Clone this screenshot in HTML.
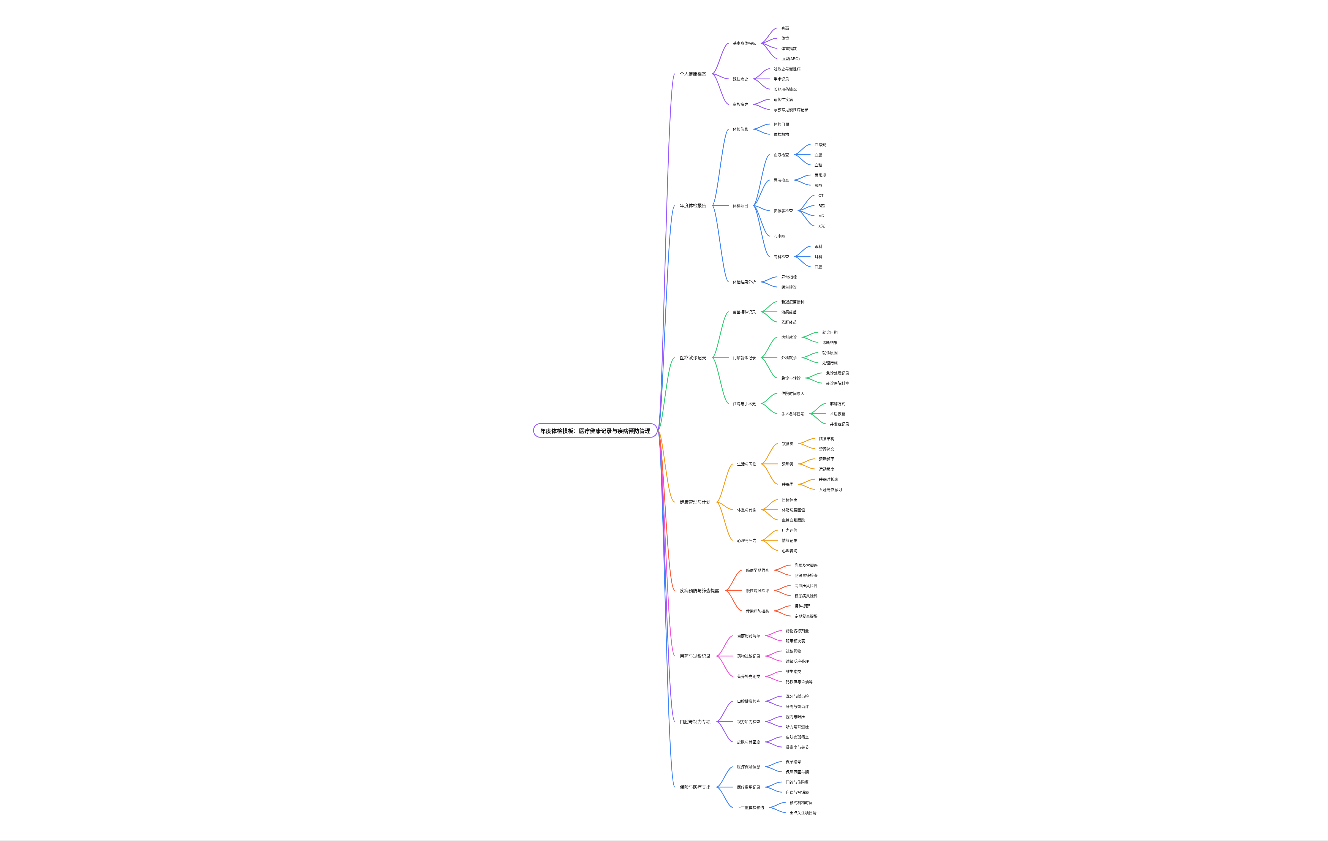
<!DOCTYPE html>
<html lang="zh-CN">
<head>
<meta charset="utf-8">
<title>年度体检模板 - 思维导图</title>
<style>
html,body{margin:0;padding:0;background:#fff;}
body{width:1328px;height:841px;overflow:hidden;position:relative;
 font-family:"Liberation Sans","Noto Sans CJK SC",sans-serif;}
#viewport{position:absolute;left:0;top:0;width:1328px;height:840px;overflow:hidden;background:#fff;}
#layer{position:absolute;left:0;top:0;width:1271.39px;height:2985.94px;transform-origin:0 0;
 transform:translate(520px,10px) scale(0.27529);will-change:transform;}
#map{position:absolute;left:0;top:0;display:block;overflow:visible;}
#foot{position:absolute;left:0;top:840px;width:1328px;height:1px;background:#eeeeee;}
svg text{font-family:"Liberation Sans","Noto Sans CJK SC",sans-serif;fill:#111;}
svg .l0{font-size:20px;font-weight:700;}
svg .l1{font-size:16px;}
svg .l2{font-size:14px;}
svg .edges path{fill:none;stroke-width:3;}
</style>
</head>
<body>
<div id="viewport">
<div id="layer">
<svg id="map" width="1271.39" height="2985.94" viewBox="0 0 1271.39 2985.94">
<g class="edges">
<path d="M500.56 1527.17C521.06 1527.17 532.86 2822.67 562.68 2822.67" stroke="#3b82f6"/>
<path d="M713.69 2822.67C733.11 2822.67 752.52 2748.67 774.36 2748.67" stroke="#3b82f6"/>
<path d="M890.25 2748.67C909.66 2748.67 929.07 2730.17 950.91 2730.17" stroke="#3b82f6"/>
<path d="M890.25 2748.67C909.66 2748.67 929.07 2767.17 950.91 2767.17" stroke="#3b82f6"/>
<path d="M713.69 2822.67C733.11 2822.67 752.52 2822.67 774.36 2822.67" stroke="#3b82f6"/>
<path d="M890.25 2822.67C909.66 2822.67 929.07 2804.17 950.91 2804.17" stroke="#3b82f6"/>
<path d="M890.25 2822.67C909.66 2822.67 929.07 2841.17 950.91 2841.17" stroke="#3b82f6"/>
<path d="M713.69 2822.67C733.11 2822.67 752.52 2896.67 774.36 2896.67" stroke="#3b82f6"/>
<path d="M904.25 2896.67C923.66 2896.67 943.07 2878.17 964.91 2878.17" stroke="#3b82f6"/>
<path d="M904.25 2896.67C923.66 2896.67 943.07 2915.17 964.91 2915.17" stroke="#3b82f6"/>
<path d="M500.56 1527.17C521.06 1527.17 532.86 2584.67 562.68 2584.67" stroke="#9455fa"/>
<path d="M713.69 2584.67C733.11 2584.67 752.52 2510.67 774.36 2510.67" stroke="#9455fa"/>
<path d="M890.25 2510.67C909.66 2510.67 929.07 2492.17 950.91 2492.17" stroke="#9455fa"/>
<path d="M890.25 2510.67C909.66 2510.67 929.07 2529.17 950.91 2529.17" stroke="#9455fa"/>
<path d="M713.69 2584.67C733.11 2584.67 752.52 2584.67 774.36 2584.67" stroke="#9455fa"/>
<path d="M890.25 2584.67C909.66 2584.67 929.07 2566.17 950.91 2566.17" stroke="#9455fa"/>
<path d="M890.25 2584.67C909.66 2584.67 929.07 2603.17 950.91 2603.17" stroke="#9455fa"/>
<path d="M713.69 2584.67C733.11 2584.67 752.52 2658.67 774.36 2658.67" stroke="#9455fa"/>
<path d="M890.25 2658.67C909.66 2658.67 929.07 2640.17 950.91 2640.17" stroke="#9455fa"/>
<path d="M890.25 2658.67C909.66 2658.67 929.07 2677.17 950.91 2677.17" stroke="#9455fa"/>
<path d="M500.56 1527.17C521.06 1527.17 532.86 2346.67 562.68 2346.67" stroke="#f04ed9"/>
<path d="M713.69 2346.67C733.11 2346.67 752.52 2272.67 774.36 2272.67" stroke="#f04ed9"/>
<path d="M890.25 2272.67C909.66 2272.67 929.07 2254.17 950.91 2254.17" stroke="#f04ed9"/>
<path d="M890.25 2272.67C909.66 2272.67 929.07 2291.17 950.91 2291.17" stroke="#f04ed9"/>
<path d="M713.69 2346.67C733.11 2346.67 752.52 2346.67 774.36 2346.67" stroke="#f04ed9"/>
<path d="M890.25 2346.67C909.66 2346.67 929.07 2328.17 950.91 2328.17" stroke="#f04ed9"/>
<path d="M890.25 2346.67C909.66 2346.67 929.07 2365.17 950.91 2365.17" stroke="#f04ed9"/>
<path d="M713.69 2346.67C733.11 2346.67 752.52 2420.67 774.36 2420.67" stroke="#f04ed9"/>
<path d="M890.25 2420.67C909.66 2420.67 929.07 2402.17 950.91 2402.17" stroke="#f04ed9"/>
<path d="M890.25 2420.67C909.66 2420.67 929.07 2439.17 950.91 2439.17" stroke="#f04ed9"/>
<path d="M500.56 1527.17C521.06 1527.17 532.86 2108.67 562.68 2108.67" stroke="#ff5733"/>
<path d="M745.69 2108.67C765.11 2108.67 784.52 2034.67 806.36 2034.67" stroke="#ff5733"/>
<path d="M922.25 2034.67C941.66 2034.67 961.07 2016.17 982.91 2016.17" stroke="#ff5733"/>
<path d="M922.25 2034.67C941.66 2034.67 961.07 2053.17 982.91 2053.17" stroke="#ff5733"/>
<path d="M745.69 2108.67C765.11 2108.67 784.52 2108.67 806.36 2108.67" stroke="#ff5733"/>
<path d="M922.25 2108.67C941.66 2108.67 961.07 2090.17 982.91 2090.17" stroke="#ff5733"/>
<path d="M922.25 2108.67C941.66 2108.67 961.07 2127.17 982.91 2127.17" stroke="#ff5733"/>
<path d="M745.69 2108.67C765.11 2108.67 784.52 2182.67 806.36 2182.67" stroke="#ff5733"/>
<path d="M922.25 2182.67C941.66 2182.67 961.07 2164.17 982.91 2164.17" stroke="#ff5733"/>
<path d="M922.25 2182.67C941.66 2182.67 961.07 2201.17 982.91 2201.17" stroke="#ff5733"/>
<path d="M500.56 1527.17C521.06 1527.17 532.86 1787.42 562.68 1787.42" stroke="#f39c12"/>
<path d="M713.69 1787.42C733.11 1787.42 752.52 1648.67 774.36 1648.67" stroke="#f39c12"/>
<path d="M876.25 1648.67C895.66 1648.67 915.07 1574.67 936.91 1574.67" stroke="#f39c12"/>
<path d="M1010.81 1574.67C1030.22 1574.67 1049.63 1556.17 1071.47 1556.17" stroke="#f39c12"/>
<path d="M1010.81 1574.67C1030.22 1574.67 1049.63 1593.17 1071.47 1593.17" stroke="#f39c12"/>
<path d="M876.25 1648.67C895.66 1648.67 915.07 1648.67 936.91 1648.67" stroke="#f39c12"/>
<path d="M1010.81 1648.67C1030.22 1648.67 1049.63 1630.17 1071.47 1630.17" stroke="#f39c12"/>
<path d="M1010.81 1648.67C1030.22 1648.67 1049.63 1667.17 1071.47 1667.17" stroke="#f39c12"/>
<path d="M876.25 1648.67C895.66 1648.67 915.07 1722.67 936.91 1722.67" stroke="#f39c12"/>
<path d="M1010.81 1722.67C1030.22 1722.67 1049.63 1704.17 1071.47 1704.17" stroke="#f39c12"/>
<path d="M1010.81 1722.67C1030.22 1722.67 1049.63 1741.17 1071.47 1741.17" stroke="#f39c12"/>
<path d="M713.69 1787.42C733.11 1787.42 752.52 1815.17 774.36 1815.17" stroke="#f39c12"/>
<path d="M876.25 1815.17C895.66 1815.17 915.07 1778.17 936.91 1778.17" stroke="#f39c12"/>
<path d="M876.25 1815.17C895.66 1815.17 915.07 1815.17 936.91 1815.17" stroke="#f39c12"/>
<path d="M876.25 1815.17C895.66 1815.17 915.07 1852.17 936.91 1852.17" stroke="#f39c12"/>
<path d="M713.69 1787.42C733.11 1787.42 752.52 1926.17 774.36 1926.17" stroke="#f39c12"/>
<path d="M876.25 1926.17C895.66 1926.17 915.07 1889.17 936.91 1889.17" stroke="#f39c12"/>
<path d="M876.25 1926.17C895.66 1926.17 915.07 1926.17 936.91 1926.17" stroke="#f39c12"/>
<path d="M876.25 1926.17C895.66 1926.17 915.07 1963.17 936.91 1963.17" stroke="#f39c12"/>
<path d="M500.56 1527.17C521.06 1527.17 532.86 1262.67 562.68 1262.67" stroke="#2ecc71"/>
<path d="M697.69 1262.67C717.11 1262.67 736.52 1096.17 758.36 1096.17" stroke="#2ecc71"/>
<path d="M874.25 1096.17C893.66 1096.17 913.07 1059.17 934.91 1059.17" stroke="#2ecc71"/>
<path d="M874.25 1096.17C893.66 1096.17 913.07 1096.17 934.91 1096.17" stroke="#2ecc71"/>
<path d="M874.25 1096.17C893.66 1096.17 913.07 1133.17 934.91 1133.17" stroke="#2ecc71"/>
<path d="M697.69 1262.67C717.11 1262.67 736.52 1262.67 758.36 1262.67" stroke="#2ecc71"/>
<path d="M874.25 1262.67C893.66 1262.67 913.07 1188.67 934.91 1188.67" stroke="#2ecc71"/>
<path d="M1022.81 1188.67C1042.22 1188.67 1061.63 1170.17 1083.47 1170.17" stroke="#2ecc71"/>
<path d="M1022.81 1188.67C1042.22 1188.67 1061.63 1207.17 1083.47 1207.17" stroke="#2ecc71"/>
<path d="M874.25 1262.67C893.66 1262.67 913.07 1262.67 934.91 1262.67" stroke="#2ecc71"/>
<path d="M1022.81 1262.67C1042.22 1262.67 1061.63 1244.17 1083.47 1244.17" stroke="#2ecc71"/>
<path d="M1022.81 1262.67C1042.22 1262.67 1061.63 1281.17 1083.47 1281.17" stroke="#2ecc71"/>
<path d="M874.25 1262.67C893.66 1262.67 913.07 1336.67 934.91 1336.67" stroke="#2ecc71"/>
<path d="M1036.81 1336.67C1056.22 1336.67 1075.63 1318.17 1097.47 1318.17" stroke="#2ecc71"/>
<path d="M1036.81 1336.67C1056.22 1336.67 1075.63 1355.17 1097.47 1355.17" stroke="#2ecc71"/>
<path d="M697.69 1262.67C717.11 1262.67 736.52 1429.17 758.36 1429.17" stroke="#2ecc71"/>
<path d="M874.25 1429.17C893.66 1429.17 913.07 1392.17 934.91 1392.17" stroke="#2ecc71"/>
<path d="M874.25 1429.17C893.66 1429.17 913.07 1466.17 934.91 1466.17" stroke="#2ecc71"/>
<path d="M1050.81 1466.17C1070.22 1466.17 1089.63 1429.17 1111.47 1429.17" stroke="#2ecc71"/>
<path d="M1050.81 1466.17C1070.22 1466.17 1089.63 1466.17 1111.47 1466.17" stroke="#2ecc71"/>
<path d="M1050.81 1466.17C1070.22 1466.17 1089.63 1503.17 1111.47 1503.17" stroke="#2ecc71"/>
<path d="M500.56 1527.17C521.06 1527.17 532.86 710.17 562.68 710.17" stroke="#3b82f6"/>
<path d="M697.69 710.17C717.11 710.17 736.52 432.67 758.36 432.67" stroke="#3b82f6"/>
<path d="M846.25 432.67C865.66 432.67 885.07 414.17 906.91 414.17" stroke="#3b82f6"/>
<path d="M846.25 432.67C865.66 432.67 885.07 451.17 906.91 451.17" stroke="#3b82f6"/>
<path d="M697.69 710.17C717.11 710.17 736.52 710.17 758.36 710.17" stroke="#3b82f6"/>
<path d="M846.25 710.17C865.66 710.17 885.07 525.17 906.91 525.17" stroke="#3b82f6"/>
<path d="M994.81 525.17C1014.22 525.17 1033.63 488.17 1055.47 488.17" stroke="#3b82f6"/>
<path d="M994.81 525.17C1014.22 525.17 1033.63 525.17 1055.47 525.17" stroke="#3b82f6"/>
<path d="M994.81 525.17C1014.22 525.17 1033.63 562.17 1055.47 562.17" stroke="#3b82f6"/>
<path d="M846.25 710.17C865.66 710.17 885.07 617.67 906.91 617.67" stroke="#3b82f6"/>
<path d="M994.81 617.67C1014.22 617.67 1033.63 599.17 1055.47 599.17" stroke="#3b82f6"/>
<path d="M994.81 617.67C1014.22 617.67 1033.63 636.17 1055.47 636.17" stroke="#3b82f6"/>
<path d="M846.25 710.17C865.66 710.17 885.07 728.67 906.91 728.67" stroke="#3b82f6"/>
<path d="M1008.81 728.67C1028.22 728.67 1047.63 673.17 1069.47 673.17" stroke="#3b82f6"/>
<path d="M1008.81 728.67C1028.22 728.67 1047.63 710.17 1069.47 710.17" stroke="#3b82f6"/>
<path d="M1008.81 728.67C1028.22 728.67 1047.63 747.17 1069.47 747.17" stroke="#3b82f6"/>
<path d="M1008.81 728.67C1028.22 728.67 1047.63 784.17 1069.47 784.17" stroke="#3b82f6"/>
<path d="M846.25 710.17C865.66 710.17 885.07 821.17 906.91 821.17" stroke="#3b82f6"/>
<path d="M846.25 710.17C865.66 710.17 885.07 895.17 906.91 895.17" stroke="#3b82f6"/>
<path d="M994.81 895.17C1014.22 895.17 1033.63 858.17 1055.47 858.17" stroke="#3b82f6"/>
<path d="M994.81 895.17C1014.22 895.17 1033.63 895.17 1055.47 895.17" stroke="#3b82f6"/>
<path d="M994.81 895.17C1014.22 895.17 1033.63 932.17 1055.47 932.17" stroke="#3b82f6"/>
<path d="M697.69 710.17C717.11 710.17 736.52 987.67 758.36 987.67" stroke="#3b82f6"/>
<path d="M874.25 987.67C893.66 987.67 913.07 969.17 934.91 969.17" stroke="#3b82f6"/>
<path d="M874.25 987.67C893.66 987.67 913.07 1006.17 934.91 1006.17" stroke="#3b82f6"/>
<path d="M500.56 1527.17C521.06 1527.17 532.86 231.67 562.68 231.67" stroke="#9455fa"/>
<path d="M697.69 231.67C717.11 231.67 736.52 120.67 758.36 120.67" stroke="#9455fa"/>
<path d="M874.25 120.67C893.66 120.67 913.07 65.17 934.91 65.17" stroke="#9455fa"/>
<path d="M874.25 120.67C893.66 120.67 913.07 102.17 934.91 102.17" stroke="#9455fa"/>
<path d="M874.25 120.67C893.66 120.67 913.07 139.17 934.91 139.17" stroke="#9455fa"/>
<path d="M874.25 120.67C893.66 120.67 913.07 176.17 934.91 176.17" stroke="#9455fa"/>
<path d="M697.69 231.67C717.11 231.67 736.52 250.17 758.36 250.17" stroke="#9455fa"/>
<path d="M846.25 250.17C865.66 250.17 885.07 213.17 906.91 213.17" stroke="#9455fa"/>
<path d="M846.25 250.17C865.66 250.17 885.07 250.17 906.91 250.17" stroke="#9455fa"/>
<path d="M846.25 250.17C865.66 250.17 885.07 287.17 906.91 287.17" stroke="#9455fa"/>
<path d="M697.69 231.67C717.11 231.67 736.52 342.67 758.36 342.67" stroke="#9455fa"/>
<path d="M846.25 342.67C865.66 342.67 885.07 324.17 906.91 324.17" stroke="#9455fa"/>
<path d="M846.25 342.67C865.66 342.67 885.07 361.17 906.91 361.17" stroke="#9455fa"/>
</g>
<g class="root">
<rect x="49.04" y="1502.17" width="449.78" height="50" rx="25" fill="#fff" stroke="#9455fa" stroke-width="3"/>
<text class="l0" x="273.93" y="1536.77" text-anchor="middle">年度体检模板：医疗健康记录与疾病预防管理</text>
</g>
<g class="nodes">
<text class="l1" x="580.48" y="2828.59">保险与医疗支出</text>
<text class="l2" x="788.89" y="2754.27">医疗保险信息</text>
<text class="l2" x="965.44" y="2735.77">保单编号</text>
<text class="l2" x="965.44" y="2772.77">保障范围与期</text>
<text class="l2" x="788.89" y="2828.27">医疗费用记录</text>
<text class="l2" x="965.44" y="2809.77">门诊与住院费</text>
<text class="l2" x="965.44" y="2846.77">自费与报销额</text>
<text class="l2" x="788.89" y="2902.27">下年度体检预约</text>
<text class="l2" x="979.44" y="2883.77">预约机构时间</text>
<text class="l2" x="979.44" y="2920.77">重点关注项目清</text>
<text class="l1" x="580.48" y="2590.59">口腔与视力专项</text>
<text class="l2" x="788.89" y="2516.27">口腔健康检查</text>
<text class="l2" x="965.44" y="2497.77">洗牙与龋齿检</text>
<text class="l2" x="965.44" y="2534.77">牙周与智齿评</text>
<text class="l2" x="788.89" y="2590.27">视力听力检查</text>
<text class="l2" x="965.44" y="2571.77">视力与眼压</text>
<text class="l2" x="965.44" y="2608.77">听力与耳道检</text>
<text class="l2" x="788.89" y="2664.27">皮肤与骨密度</text>
<text class="l2" x="965.44" y="2645.77">皮肤痣斑筛查</text>
<text class="l2" x="965.44" y="2682.77">骨密度与关节</text>
<text class="l1" x="580.48" y="2352.59">用药与过敏记录</text>
<text class="l2" x="788.89" y="2278.27">当前用药清单</text>
<text class="l2" x="965.44" y="2259.77">药物名称剂量</text>
<text class="l2" x="965.44" y="2296.77">服用频次表</text>
<text class="l2" x="788.89" y="2352.27">药物过敏记录</text>
<text class="l2" x="965.44" y="2333.77">过敏药物</text>
<text class="l2" x="965.44" y="2370.77">过敏反应处理</text>
<text class="l2" x="788.89" y="2426.27">营养补充剂类</text>
<text class="l2" x="965.44" y="2407.77">维生素类</text>
<text class="l2" x="965.44" y="2444.77">钙铁锌与鱼油等</text>
<text class="l1" x="580.48" y="2114.59">疾病预防与筛查提醒</text>
<text class="l2" x="820.89" y="2040.27">癌症早期筛查</text>
<text class="l2" x="997.44" y="2021.77">乳腺及宫颈癌</text>
<text class="l2" x="997.44" y="2058.77">肠镜胃镜检查</text>
<text class="l2" x="820.89" y="2114.27">慢性病风险评</text>
<text class="l2" x="997.44" y="2095.77">高血压风险评</text>
<text class="l2" x="997.44" y="2132.77">糖尿病风险评</text>
<text class="l2" x="820.89" y="2188.27">传染病防控类</text>
<text class="l2" x="997.44" y="2169.77">接种提醒</text>
<text class="l2" x="997.44" y="2206.77">定期复查提醒</text>
<text class="l1" x="580.48" y="1793.34">健康管理与计划</text>
<text class="l2" x="788.89" y="1654.27">生活与习惯</text>
<text class="l2" x="951.44" y="1580.27">饮食类</text>
<text class="l2" x="1086" y="1561.77">膳食结构</text>
<text class="l2" x="1086" y="1598.77">营养补充</text>
<text class="l2" x="951.44" y="1654.27">运动类</text>
<text class="l2" x="1086" y="1635.77">运动频率</text>
<text class="l2" x="1086" y="1672.77">运动强度</text>
<text class="l2" x="951.44" y="1728.27">睡眠类</text>
<text class="l2" x="1086" y="1709.77">睡眠时长表</text>
<text class="l2" x="1086" y="1746.77">入睡与作息习</text>
<text class="l2" x="788.89" y="1820.77">体重与代谢</text>
<text class="l2" x="951.44" y="1783.77">目标体重</text>
<text class="l2" x="951.44" y="1820.77">体脂与腰围值</text>
<text class="l2" x="951.44" y="1857.77">血糖血脂跟踪</text>
<text class="l2" x="788.89" y="1931.77">心理与压力</text>
<text class="l2" x="951.44" y="1894.77">压力评估</text>
<text class="l2" x="951.44" y="1931.77">情绪记录</text>
<text class="l2" x="951.44" y="1968.77">心理咨询</text>
<text class="l1" x="580.48" y="1268.59">医疗就诊记录</text>
<text class="l2" x="772.89" y="1101.77">疫苗接种记录</text>
<text class="l2" x="949.44" y="1064.77">新冠疫苗接种</text>
<text class="l2" x="949.44" y="1101.77">流感疫苗</text>
<text class="l2" x="949.44" y="1138.77">乙肝疫苗</text>
<text class="l2" x="772.89" y="1268.27">门诊就诊记录</text>
<text class="l2" x="949.44" y="1194.27">内科就诊</text>
<text class="l2" x="1098" y="1175.77">就诊日期</text>
<text class="l2" x="1098" y="1212.77">诊断结果</text>
<text class="l2" x="949.44" y="1268.27">外科就诊</text>
<text class="l2" x="1098" y="1249.77">就诊原因</text>
<text class="l2" x="1098" y="1286.77">处理措施</text>
<text class="l2" x="949.44" y="1342.27">急诊与转诊</text>
<text class="l2" x="1112" y="1323.77">急诊处理记录</text>
<text class="l2" x="1112" y="1360.77">转诊医院科室</text>
<text class="l2" x="772.89" y="1434.77">住院与手术史</text>
<text class="l2" x="949.44" y="1397.77">住院时间原因</text>
<text class="l2" x="949.44" y="1471.77">手术名称日期</text>
<text class="l2" x="1126" y="1434.77">麻醉方式</text>
<text class="l2" x="1126" y="1471.77">术后恢复</text>
<text class="l2" x="1126" y="1508.77">并发症记录</text>
<text class="l1" x="580.48" y="716.09">年度体检报告</text>
<text class="l2" x="772.89" y="438.27">体检信息</text>
<text class="l2" x="921.44" y="419.77">体检日期</text>
<text class="l2" x="921.44" y="456.77">体检机构</text>
<text class="l2" x="772.89" y="715.77">体检项目</text>
<text class="l2" x="921.44" y="530.77">血液检查</text>
<text class="l2" x="1070" y="493.77">血常规</text>
<text class="l2" x="1070" y="530.77">血脂</text>
<text class="l2" x="1070" y="567.77">血糖</text>
<text class="l2" x="921.44" y="623.27">尿液检查</text>
<text class="l2" x="1070" y="604.77">尿常规</text>
<text class="l2" x="1070" y="641.77">尿酸</text>
<text class="l2" x="921.44" y="734.27">影像学检查</text>
<text class="l2" x="1084" y="678.77">CT</text>
<text class="l2" x="1084" y="715.77">B超</text>
<text class="l2" x="1084" y="752.77">MRI</text>
<text class="l2" x="1084" y="789.77">X光</text>
<text class="l2" x="921.44" y="826.77">心电图</text>
<text class="l2" x="921.44" y="900.77">专科检查</text>
<text class="l2" x="1070" y="863.77">眼科</text>
<text class="l2" x="1070" y="900.77">耳科</text>
<text class="l2" x="1070" y="937.77">口腔</text>
<text class="l2" x="772.89" y="993.27">体检结果分析</text>
<text class="l2" x="949.44" y="974.77">异常指标</text>
<text class="l2" x="949.44" y="1011.77">医生建议</text>
<text class="l1" x="580.48" y="237.59">个人健康档案</text>
<text class="l2" x="772.89" y="126.27">基本身体指标</text>
<text class="l2" x="949.44" y="70.77">身高</text>
<text class="l2" x="949.44" y="107.77">体重</text>
<text class="l2" x="949.44" y="144.77">体重指数</text>
<text class="l2" x="949.44" y="181.77">血型(ABO)</text>
<text class="l2" x="772.89" y="255.77">既往病史</text>
<text class="l2" x="921.44" y="218.77">过敏史与慢性病</text>
<text class="l2" x="921.44" y="255.77">手术记录</text>
<text class="l2" x="921.44" y="292.77">长期用药情况</text>
<text class="l2" x="772.89" y="348.27">家族病史</text>
<text class="l2" x="921.44" y="329.77">遗传性疾病</text>
<text class="l2" x="921.44" y="366.77">家族常见慢性病记录</text>
</g>
</svg>
</div>
</div>
<div id="foot"></div>
</body>
</html>
